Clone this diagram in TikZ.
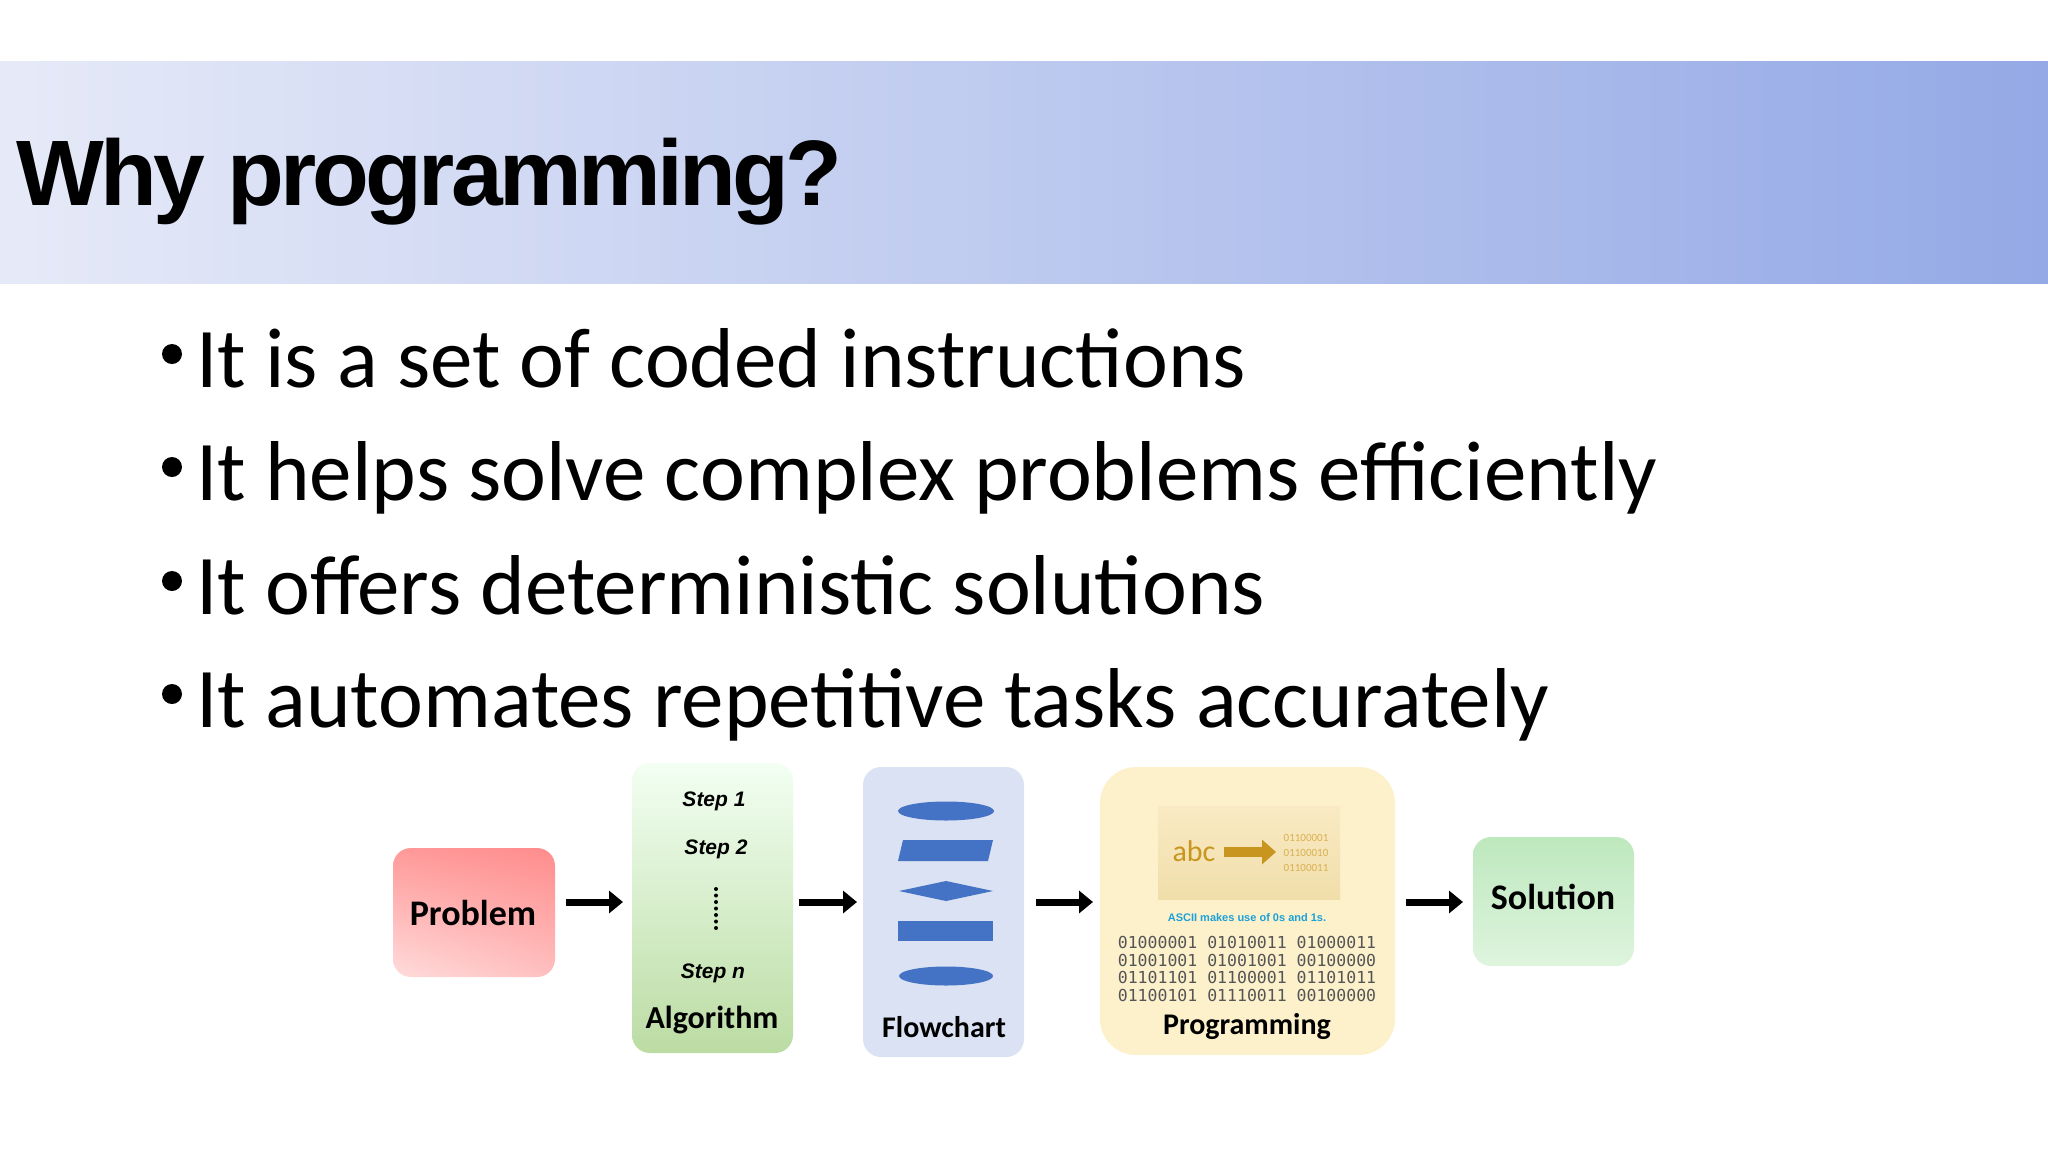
\documentclass[tikz,border=0pt]{standalone}
\usepackage{fontspec}
\setmainfont{Carlito}
\newfontfamily\hfont{Liberation Sans}
\newfontfamily\mfont{DejaVu Sans Mono}
\usetikzlibrary{arrows.meta,shapes.geometric,shadings}
\definecolor{hdrL}{HTML}{E6EAF8}
\definecolor{hdrR}{HTML}{94A9E6}
\definecolor{fcblue}{HTML}{4472C4}
\definecolor{gold}{HTML}{C8961E}
\definecolor{goldl}{HTML}{D9B04E}
\definecolor{asciiblue}{HTML}{1BA1D8}
\definecolor{bingray}{HTML}{555555}
\tikzset{
  box/.style={rounded corners=18pt, draw=none},
  lbl/.style={font=\bfseries\fontsize{36}{40}\selectfont, anchor=center},
  steplbl/.style={font=\hfont\bfseries\itshape\fontsize{21}{24}\selectfont},
  bigarrow/.style={line width=7pt, -{Triangle[length=14pt,width=22pt]}},
  bullet/.style={anchor=base west, font=\fontsize{85}{96}\selectfont},
  binrow/.style={font=\mfont\fontsize{16.5}{17}\selectfont, text=bingray, anchor=center}
}
\begin{document}
\begin{tikzpicture}[x=1pt,y=-1pt]
\useasboundingbox (0,0) rectangle (2048,1152);
\fill[white] (0,0) rectangle (2048,1152);
% header
\shade[left color=hdrL, right color=hdrR] (0,61) rectangle (2048,283);
\node[anchor=base west, inner sep=0, font=\hfont\bfseries\fontsize{93}{100}\selectfont] (title) at (16,205) {\addfontfeature{LetterSpace=-4}Why programming?};
% bullets
\foreach \y/\t [count=\i] in {387/It is a set of coded instructions, 500/It helps solve complex problems efficiently, 614/It offers deterministic solutions, 727/It automates repetitive tasks accurately}{
  \node[bullet, inner sep=0] (b\i) at (196,\y) {\t};
  \fill (172,{\y-33}) circle (10pt);
}
% Problem
\shade[box, upper right=red!45!white, upper left=red!40!white, lower left=red!14!white, lower right=red!25!white] (393,848) rectangle (555,977);
\node[lbl] (prob) at (473,913) {Problem};
% Algorithm
\shade[box, top color=green!5!white, bottom color={rgb,255:red,187;green,220;blue,163}] (632,763) rectangle (793,1053);
\node[steplbl] (s1) at (714,801) {Step 1};
\node[steplbl] (s2) at (716,849) {Step 2};
\draw[line width=4pt, dash pattern=on 0pt off 6.5pt, line cap=round] (716,889) -- (716,931);
\node[steplbl] (sn) at (713,973) {Step n};
\node[lbl, font=\bfseries\fontsize{32}{36}\selectfont] (alg) at (712,1020) {Algorithm};
% Flowchart
\fill[box, fill={rgb,255:red,218;green,226;blue,243}] (863,767) rectangle (1024,1057);
\fill[fcblue] (946,811) ellipse (48pt and 9.5pt);
\fill[fcblue] (903,840) -- (993,840) -- (988,861) -- (898,861) -- cycle;
\fill[fcblue] (899,891) -- (946,881) -- (993,891) -- (946,901) -- cycle;
\fill[fcblue] (898,921) rectangle (993,941);
\fill[fcblue] (946,976) ellipse (47pt and 9.5pt);
\node[lbl, font=\bfseries\fontsize{30}{34}\selectfont] (fc) at (944,1027) {Flowchart};
% Programming
\fill[box, rounded corners=36pt, fill={rgb,255:red,253;green,241;blue,204}] (1100,767) rectangle (1395,1055);
\shade[top color={rgb,255:red,250;green,234;blue,196}, bottom color={rgb,255:red,240;green,222;blue,170}] (1158,806) rectangle (1340,899);
\node[font=\fontsize{30}{32}\selectfont, text=gold] (abc) at (1194,851) {abc};
\draw[gold, line width=10pt, -{Triangle[length=14pt,width=24pt]}] (1224,852) -- (1276,852);
\node[font=\fontsize{11}{15}\selectfont, text=goldl, align=center] (bits) at (1306,853) {01100001\\01100010\\01100011};
\node[font=\hfont\bfseries\fontsize{11}{12}\selectfont, text=asciiblue] (ascii) at (1247,918) {ASCII makes use of 0s and 1s.};
\node[binrow] (r1) at (1247,942) {01000001 01010011 01000011};
\node[binrow] (r2) at (1247,960) {01001001 01001001 00100000};
\node[binrow] (r3) at (1247,977) {01101101 01100001 01101011};
\node[binrow] (r4) at (1247,995) {01100101 01110011 00100000};
\node[lbl, font=\bfseries\fontsize{30}{34}\selectfont] (prog) at (1247,1026) {Programming};
% Solution
\shade[box, top color={rgb,255:red,190;green,232;blue,190}, bottom color={rgb,255:red,222;green,244;blue,222}] (1473,837) rectangle (1634,966);
\node[lbl, font=\bfseries\fontsize{36}{40}\selectfont] (sol) at (1553,897) {Solution};
% arrows
\coordinate (a1s) at (566,902); \coordinate (a1e) at (623,902);
\coordinate (a2s) at (799,902); \coordinate (a2e) at (857,902);
\coordinate (a3s) at (1036,902); \coordinate (a3e) at (1093,902);
\coordinate (a4s) at (1406,902); \coordinate (a4e) at (1463,902);
\draw[bigarrow] (a1s) -- (a1e);
\draw[bigarrow] (a2s) -- (a2e);
\draw[bigarrow] (a3s) -- (a3e);
\draw[bigarrow] (a4s) -- (a4e);
\end{tikzpicture}
\end{document}
